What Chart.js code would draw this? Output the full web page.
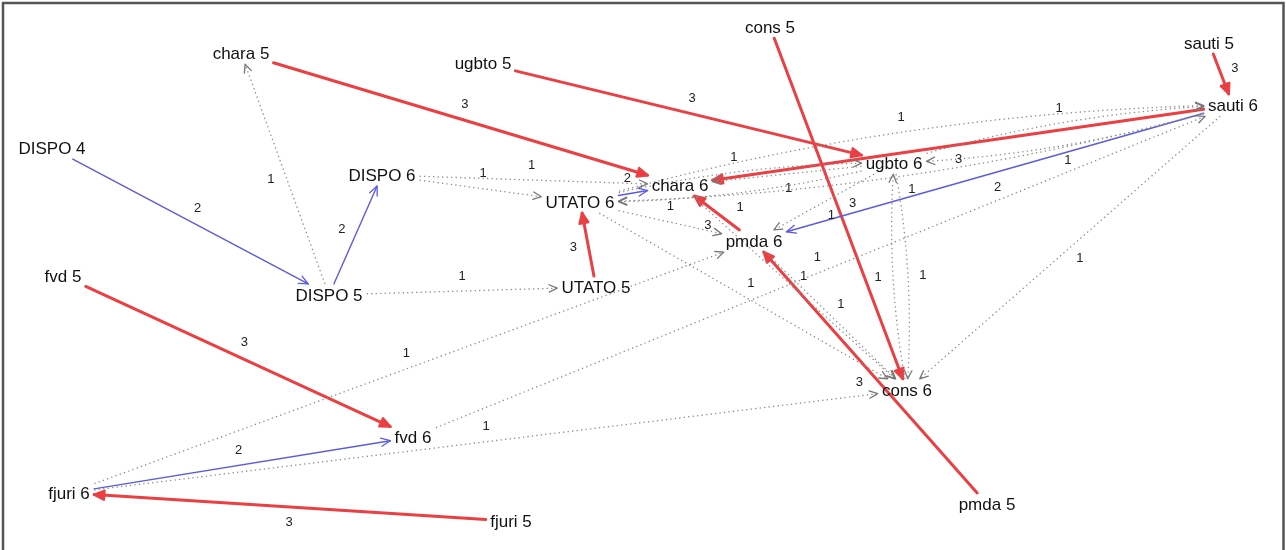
<!DOCTYPE html>
<html>
<head>
<meta charset="utf-8">
<script src="https://cdn.jsdelivr.net/npm/chart.js@4.4.1/dist/chart.umd.min.js"></script>
<style>
  html, body { margin: 0; padding: 0; background: #fff; }
  #wrap { position: absolute; left: 0; top: 0; width: 1286px; height: 550px; }
</style>
</head>
<body>
<div id="wrap"><canvas id="net" width="1286" height="550"></canvas></div>
<script>
// nodes: label and layout position (y grows downward, like the original plot)
const nodeNames = ['chara 5', 'ugbto 5', 'cons 5', 'sauti 5', 'DISPO 4', 'DISPO 6', 'chara 6', 'ugbto 6',
                   'sauti 6', 'UTATO 6', 'pmda 6', 'DISPO 5', 'UTATO 5', 'fvd 5', 'fvd 6', 'cons 6',
                   'fjuri 6', 'fjuri 5', 'pmda 5'];
const nodeX = [241, 483, 770, 1209, 52, 382, 680, 894, 1233, 580, 754, 329, 596, 63, 413, 907, 69, 511, 987];
const nodeY = [53, 63, 27, 43, 148, 175, 185, 163, 105, 202, 241, 295, 287, 276, 437, 390, 493, 521, 504];

// edges: from -> to, weight (3 = red, 2 = blue, 1 = dotted)
const edgeFrom = [
  'chara 5', 'ugbto 5', 'cons 5', 'sauti 5', 'sauti 6', 'UTATO 5', 'pmda 6', 'pmda 5', 'fvd 5', 'fjuri 5',
  'DISPO 4', 'DISPO 5', 'fjuri 6', 'UTATO 6', 'sauti 6',
  'DISPO 5', 'DISPO 6', 'DISPO 6', 'DISPO 5', 'fjuri 6', 'fjuri 6', 'UTATO 6', 'UTATO 6', 'fvd 6',
  'UTATO 6', 'ugbto 6', 'ugbto 6', 'ugbto 6', 'ugbto 6', 'cons 6', 'ugbto 6', 'sauti 6', 'sauti 6',
  'chara 6', 'pmda 6', 'UTATO 6', 'sauti 6'
];
const edgeTo = [
  'chara 6', 'ugbto 6', 'cons 6', 'sauti 6', 'chara 6', 'UTATO 6', 'chara 6', 'pmda 6', 'fvd 6', 'fjuri 6',
  'DISPO 5', 'DISPO 6', 'fvd 6', 'chara 6', 'pmda 6',
  'chara 5', 'UTATO 6', 'chara 6', 'UTATO 5', 'pmda 6', 'cons 6', 'pmda 6', 'cons 6', 'sauti 6',
  'ugbto 6', 'UTATO 6', 'chara 6', 'pmda 6', 'cons 6', 'ugbto 6', 'sauti 6', 'ugbto 6', 'cons 6',
  'cons 6', 'cons 6', 'sauti 6', 'UTATO 6'
];
const edgeWeight = [
  3, 3, 3, 3, 3, 3, 3, 3, 3, 3,
  2, 2, 2, 2, 2,
  1, 1, 1, 1, 1, 1, 1, 1, 1,
  1, 1, 1, 1, 1, 1, 1, 1, 1,
  1, 1, 1, 1
];

const nodeFont = '17px "Liberation Sans", Arial, sans-serif';
const labelFont = '13px "Liberation Sans", Arial, sans-serif';

function edgeStyle(w) {
  if (w >= 3) return { color: '#ea3f43', width: 3, dash: [], head: 11 };
  if (w === 2) return { color: '#5b5be0', width: 1.4, dash: [], head: 10 };
  return { color: '#8a8a8a', width: 1.3, dash: [1.3, 3.2], head: 9, headColor: '#777' };
}

const networkPlugin = {
  id: 'network',
  beforeDraw(chart) {
    const ctx = chart.ctx;
    ctx.save();
    ctx.fillStyle = '#fff';
    ctx.fillRect(0, 0, chart.width, chart.height);
    ctx.strokeStyle = '#555';
    ctx.lineWidth = 2.5;
    ctx.strokeRect(3, 3, 1280.5, 580);
    ctx.restore();
  },
  afterDatasetsDraw(chart) {
    const ctx = chart.ctx;
    const xs = chart.scales.x, ys = chart.scales.y;
    ctx.save();
    ctx.font = nodeFont;
    const boxes = {};
    nodeNames.forEach((n, i) => {
      const w = ctx.measureText(n).width;
      boxes[n] = { x: xs.getPixelForValue(nodeX[i]), y: ys.getPixelForValue(nodeY[i]), hw: w / 2 + 4, hh: 11 };
    });
    const pairKey = (a, b) => a + '|' + b;
    const present = new Set(edgeFrom.map((f, i) => pairKey(f, edgeTo[i])));
    const inside = (p, bx) => Math.abs(p.x - bx.x) <= bx.hw && Math.abs(p.y - bx.y) <= bx.hh;

    const labels = [];
    edgeFrom.forEach((f, i) => {
      const a = boxes[f], b = boxes[edgeTo[i]];
      const st = edgeStyle(edgeWeight[i]);
      let dx = b.x - a.x, dy = b.y - a.y;
      const len = Math.hypot(dx, dy);
      dx /= len; dy /= len;
      const px = dy, py = -dx;
      // reciprocal pairs are drawn as two gentle arcs
      const bend = present.has(pairKey(edgeTo[i], f)) ? 0.033 * len : 0;
      const cx = (a.x + b.x) / 2 + px * 2 * bend, cy = (a.y + b.y) / 2 + py * 2 * bend;
      const pt = u => ({
        x: (1 - u) * (1 - u) * a.x + 2 * (1 - u) * u * cx + u * u * b.x,
        y: (1 - u) * (1 - u) * a.y + 2 * (1 - u) * u * cy + u * u * b.y
      });
      let u0 = 0, u1 = 1;
      while (u0 < 1 && inside(pt(u0), a)) u0 += 0.001;
      while (u1 > 0 && (inside(pt(u1), b))) u1 -= 0.001;

      ctx.strokeStyle = st.color;
      ctx.lineWidth = st.width;
      ctx.setLineDash(st.dash);
      ctx.lineCap = st.dash.length ? 'butt' : 'round';
      ctx.beginPath();
      const steps = bend ? 40 : 1;
      for (let s = 0; s <= steps; s++) {
        const p = pt(u0 + (u1 - u0) * s / steps);
        if (s === 0) ctx.moveTo(p.x, p.y); else ctx.lineTo(p.x, p.y);
      }
      ctx.stroke();

      // arrow head along the end tangent
      const e = pt(u1);
      const tx = 2 * (1 - u1) * (cx - a.x) + 2 * u1 * (b.x - cx);
      const ty = 2 * (1 - u1) * (cy - a.y) + 2 * u1 * (b.y - cy);
      const ang = Math.atan2(ty, tx), spread = 0.42;
      ctx.setLineDash([]);
      ctx.strokeStyle = st.headColor || st.color;
      ctx.lineWidth = edgeWeight[i] >= 3 ? 2.4 : 1.3;
      ctx.lineCap = 'round';
      ctx.lineJoin = 'round';
      ctx.beginPath();
      ctx.moveTo(e.x - st.head * Math.cos(ang - spread), e.y - st.head * Math.sin(ang - spread));
      ctx.lineTo(e.x, e.y);
      ctx.lineTo(e.x - st.head * Math.cos(ang + spread), e.y - st.head * Math.sin(ang + spread));
      if (edgeWeight[i] >= 3) {
        ctx.closePath();
        ctx.fillStyle = st.color;
        ctx.fill();
      }
      ctx.stroke();

      const m = pt(0.5);
      labels.push({ x: m.x + px * 15, y: m.y + py * 15, t: String(edgeWeight[i]) });
    });

    ctx.font = labelFont;
    ctx.fillStyle = '#222';
    ctx.textAlign = 'center';
    ctx.textBaseline = 'middle';
    labels.forEach(l => ctx.fillText(l.t, l.x, l.y));

    ctx.font = nodeFont;
    ctx.fillStyle = '#111';
    nodeNames.forEach(n => ctx.fillText(n, boxes[n].x, boxes[n].y + 1));
    ctx.restore();
  }
};

new Chart(document.getElementById('net'), {
  type: 'scatter',
  data: {
    datasets: [{
      data: nodeNames.map((n, i) => ({ x: nodeX[i], y: nodeY[i] })),
      pointRadius: 0,
      pointHoverRadius: 0
    }]
  },
  options: {
    responsive: false,
    animation: false,
    devicePixelRatio: 1,
    layout: { padding: 0 },
    scales: {
      x: { type: 'linear', min: 0, max: 1286, display: false },
      y: { type: 'linear', min: 0, max: 550, reverse: true, display: false }
    },
    plugins: { legend: { display: false }, tooltip: { enabled: false } }
  },
  plugins: [networkPlugin]
});
</script>
</body>
</html>
